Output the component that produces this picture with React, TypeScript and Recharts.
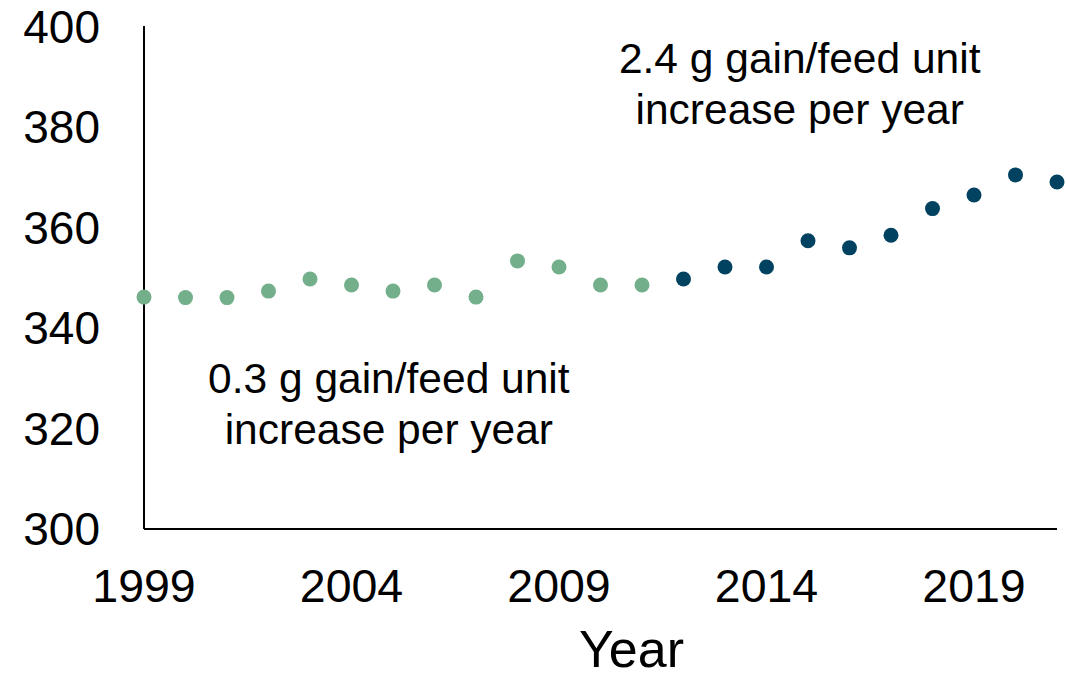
import React from "react";
import { ScatterChart, Scatter, XAxis, YAxis, ReferenceDot } from "recharts";

const earlyYears = [1999, 2000, 2001, 2002, 2003, 2004, 2005, 2006, 2007, 2008, 2009, 2010, 2011];
const earlyValues = [346.1, 346.0, 346.0, 347.3, 349.7, 348.5, 347.3, 348.5, 346.1, 353.3, 352.1, 348.5, 348.5];

const lateYears = [2012, 2013, 2014, 2015, 2016, 2017, 2018, 2019, 2020, 2021];
const lateValues = [349.7, 352.1, 352.1, 357.3, 355.9, 358.4, 363.7, 366.4, 370.4, 369.0];

const xTicks = [1999, 2004, 2009, 2014, 2019];
const yTicks = [300, 320, 340, 360, 380, 400];

const earlyNote = ["0.3 g gain/feed unit", "increase per year"];
const lateNote = ["2.4 g gain/feed unit", "increase per year"];

const early = earlyYears.map((year, i) => ({ year, value: earlyValues[i] }));
const late = lateYears.map((year, i) => ({ year, value: lateValues[i] }));

const FONT = '"Liberation Sans", Arial, sans-serif';
const GREEN = "#72af8a";
const NAVY = "#004260";

const dot = (color: string) => (props: any) => (
    <circle cx={props.cx} cy={props.cy} r={7.5} fill={color} />
);

const note = (lines: string[]) => (props: any) => {
    const { x, y } = props.viewBox;
    return (
        <text x={x} y={y} textAnchor="middle" fontFamily={FONT} fontSize={42.5} fill="#000">
            {lines.map((line, i) => (
                <tspan key={i} x={x} dy={i === 0 ? 0 : 51}>{line}</tspan>
            ))}
        </text>
    );
};

export default function App() {
    return (
        <div style={{ position: "absolute", left: 0, top: 0, width: 1066, height: 678, background: "#fff" }}>
            <ScatterChart width={1066} height={678} margin={{ top: 26, right: 9, bottom: 0, left: 0 }}>
                <XAxis
                    type="number"
                    dataKey="year"
                    domain={[1999, 2021]}
                    ticks={xTicks}
                    height={149}
                    tickLine={false}
                    tickSize={0}
                    tickMargin={40}
                    axisLine={{ stroke: "#000", strokeWidth: 2 }}
                    tick={{ fill: "#000", fontSize: 46.5, fontFamily: FONT }}
                    label={{ value: "Year", position: "insideBottom", offset: 11, dx: 31, fill: "#000", fontSize: 52, fontFamily: FONT }}
                />
                <YAxis
                    type="number"
                    dataKey="value"
                    domain={[300, 400]}
                    ticks={yTicks}
                    width={144}
                    tickLine={false}
                    tickSize={0}
                    tickMargin={44}
                    axisLine={{ stroke: "#000", strokeWidth: 2 }}
                    tick={{ fill: "#000", fontSize: 46, fontFamily: FONT }}
                />
                <Scatter data={early} shape={dot(GREEN)} isAnimationActive={false} />
                <Scatter data={late} shape={dot(NAVY)} isAnimationActive={false} />
                <ReferenceDot x={2004.9} y={327} r={0} fill="none" stroke="none" ifOverflow="visible" label={note(earlyNote)} />
                <ReferenceDot x={2014.8} y={390.7} r={0} fill="none" stroke="none" ifOverflow="visible" label={note(lateNote)} />
            </ScatterChart>
        </div>
    );
}
